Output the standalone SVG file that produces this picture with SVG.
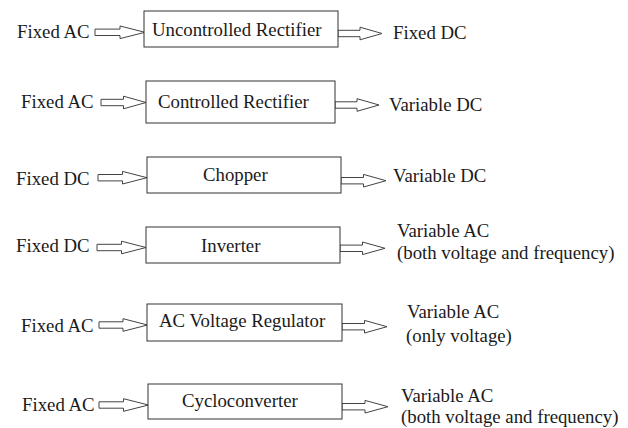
<svg xmlns="http://www.w3.org/2000/svg" width="628" height="428" viewBox="0 0 628 428">
<style>
text{font-family:"Liberation Serif","Times New Roman",serif;font-size:18.8px;fill:#1a1a1a}
.box{fill:#fff;stroke:#333;stroke-width:1}
.arr{fill:#fff;stroke:#444;stroke-width:1;stroke-linejoin:miter}
</style>
<rect width="628" height="428" fill="#fff"/>
<g id="connectors">
<path class="arr" d="M95,29.1 H120 V26 L145,32.3 L120,38.6 V35.5 H95 Z"/>
<path class="arr" d="M101,99.3 H123.5 V96.2 L146,102.5 L123.5,108.8 V105.7 H101 Z"/>
<path class="arr" d="M98,174.5 H122.5 V171.4 L147,177.7 L122.5,184 V180.9 H98 Z"/>
<path class="arr" d="M97,244.3 H121.5 V241.2 L146,247.5 L121.5,253.8 V250.7 H97 Z"/>
<path class="arr" d="M99,321.8 H123 V318.7 L147.5,325 L123,331.3 V328.2 H99 Z"/>
<path class="arr" d="M99,401.8 H123.5 V398.7 L148.5,405 L123.5,411.3 V408.2 H99 Z"/>
<path class="arr" d="M338,30.3 H360 V27.2 L382,33.5 L360,39.8 V36.7 H338 Z"/>
<path class="arr" d="M335,101.8 H357 V98.7 L379,105 L357,111.3 V108.2 H335 Z"/>
<path class="arr" d="M341,177.5 H363.5 V174.4 L386,180.7 L363.5,187 V183.9 H341 Z"/>
<path class="arr" d="M340,245.1 H362.5 V242 L385,248.3 L362.5,254.6 V251.5 H340 Z"/>
<path class="arr" d="M342,323.5 H364.5 V320.4 L387,326.7 L364.5,333 V329.9 H342 Z"/>
<path class="arr" d="M342,403.5 H365 V400.4 L388,406.7 L365,413 V409.9 H342 Z"/>
</g>
<g id="uncontrolled-rectifier">
<rect class="box" x="144" y="11" width="194" height="36"/>
<text x="152" y="36">Uncontrolled Rectifier</text>
</g>
<g id="controlled-rectifier">
<rect class="box" x="146" y="81" width="189" height="42"/>
<text x="158" y="108">Controlled Rectifier</text>
</g>
<g id="chopper">
<rect class="box" x="147" y="157" width="194" height="36"/>
<text x="203" y="181">Chopper</text>
</g>
<g id="inverter">
<rect class="box" x="146" y="227" width="194" height="36"/>
<text x="201" y="252">Inverter</text>
</g>
<g id="ac-voltage-regulator">
<rect class="box" x="147" y="304" width="195" height="37"/>
<text x="159" y="327">AC Voltage Regulator</text>
</g>
<g id="cycloconverter">
<rect class="box" x="148" y="384" width="194" height="35"/>
<text x="182" y="407">Cycloconverter</text>
</g>
<g id="inputs">
<text x="17" y="38">Fixed AC</text>
<text x="21" y="108">Fixed AC</text>
<text x="16" y="185">Fixed DC</text>
<text x="16" y="252">Fixed DC</text>
<text x="21" y="332">Fixed AC</text>
<text x="22" y="411">Fixed AC</text>
</g>
<g id="outputs">
<text x="393" y="39">Fixed DC</text>
<text x="389" y="111">Variable DC</text>
<text x="393" y="182">Variable DC</text>
<text x="397" y="237">Variable AC</text>
<text x="397" y="259">(both voltage and frequency)</text>
<text x="407" y="318">Variable AC</text>
<text x="406" y="342">(only voltage)</text>
<text x="401" y="402">Variable AC</text>
<text x="401" y="423">(both voltage and frequency)</text>
</g>
</svg>
